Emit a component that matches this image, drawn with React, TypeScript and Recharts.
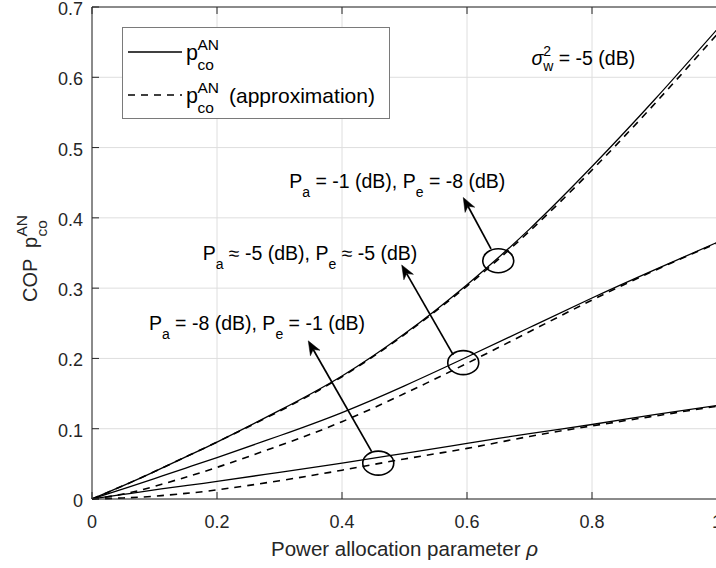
import React from 'react';
import { LineChart, Line, XAxis, YAxis, CartesianGrid, ReferenceLine, ReferenceDot, Legend } from 'recharts';

// ---------- data ----------
const rho = [0, 0.05, 0.1, 0.15, 0.2, 0.3, 0.4, 0.5, 0.6, 0.7, 0.8, 0.9, 1.0];
// Pa = -1 dB, Pe = -8 dB
const copHighExact = [0, 0.019, 0.039, 0.06, 0.081, 0.126, 0.175, 0.235, 0.305, 0.384, 0.473, 0.568, 0.668];
const copHighApprox = [0, 0.019, 0.039, 0.06, 0.081, 0.125, 0.174, 0.234, 0.303, 0.381, 0.468, 0.562, 0.661];
// Pa ~ -5 dB, Pe ~ -5 dB
const copMidExact = [0, 0.0145, 0.029, 0.044, 0.059, 0.09, 0.123, 0.161, 0.202, 0.244, 0.286, 0.326, 0.365];
const copMidApprox = [0, 0.007, 0.018, 0.031, 0.045, 0.076, 0.11, 0.15, 0.193, 0.238, 0.283, 0.325, 0.364];
// Pa = -8 dB, Pe = -1 dB
const copLowExact = [0, 0.0065, 0.013, 0.019, 0.025, 0.038, 0.051, 0.065, 0.079, 0.093, 0.106, 0.12, 0.133];
const copLowApprox = [0, 0.0015, 0.004, 0.008, 0.013, 0.026, 0.041, 0.057, 0.072, 0.089, 0.104, 0.118, 0.132];

const xTicks = [0, 0.2, 0.4, 0.6, 0.8, 1];
const yTicks = [0, 0.1, 0.2, 0.3, 0.4, 0.5, 0.6, 0.7];

const legendNames = ['', '(approximation)'];

// annotation anchors (data coordinates)
const ellipseCenters = [
  { x: 0.65, y: 0.339 },
  { x: 0.594, y: 0.194 },
  { x: 0.458, y: 0.051 },
];
const arrowSegments = [
  { x1: 0.6384, y1: 0.356, x2: 0.594, y2: 0.429 },
  { x1: 0.578, y1: 0.205, x2: 0.4955, y2: 0.333 },
  { x1: 0.4475, y1: 0.0673, x2: 0.346, y2: 0.225 },
];
type Seg = { t: string; sub?: boolean };
const annotationTexts: { x: number; y: number; anchor: 'start' | 'end'; segs: Seg[] }[] = [
  { x: 0.3155, y: 0.442, anchor: 'start', segs: [{ t: 'P' }, { t: 'a', sub: true }, { t: ' = -1 (dB), P' }, { t: 'e', sub: true }, { t: ' = -8 (dB)' }] },
  { x: 0.177, y: 0.34, anchor: 'start', segs: [{ t: 'P' }, { t: 'a', sub: true }, { t: ' \u2248 -5 (dB), P' }, { t: 'e', sub: true }, { t: ' \u2248 -5 (dB)' }] },
  { x: 0.4368, y: 0.2404, anchor: 'end', segs: [{ t: 'P' }, { t: 'a', sub: true }, { t: ' = -8 (dB), P' }, { t: 'e', sub: true }, { t: ' = -1 (dB)' }] },
];
const sigmaAnchor = { x: 0.703, y: 0.617 };

const data = rho.map((x, i) => ({
  x,
  s1: copHighExact[i],
  d1: copHighApprox[i],
  s2: copMidExact[i],
  d2: copMidApprox[i],
  s3: copLowExact[i],
  d3: copLowApprox[i],
}));

// ---------- styles ----------
const FONT = "'Liberation Sans', Arial, Helvetica, sans-serif";
const AXIS = '#262626';
const GRID = '#dedede';
const DASH = '7 6';
const ANN = 19.5;
const ANN_SUB = 14;

const fmt = (v: number) => String(Math.round(v * 10) / 10);

const BottomTick = (p: any) => (
  <g>
    <line x1={p.x} y1={p.y} x2={p.x} y2={p.y - 7} stroke={AXIS} strokeWidth={1} />
    <text x={p.x} y={p.y + 29} textAnchor="middle" fontSize={18} fill={AXIS} fontFamily={FONT}>
      {fmt(p.payload.value)}
    </text>
  </g>
);
const TopTick = (p: any) => (
  <line x1={p.x} y1={p.y} x2={p.x} y2={p.y + 7} stroke={AXIS} strokeWidth={1} />
);
const LeftTick = (p: any) => (
  <g>
    <line x1={p.x} y1={p.y} x2={p.x + 7} y2={p.y} stroke={AXIS} strokeWidth={1} />
    <text x={p.x - 9} y={p.y + 8} textAnchor="end" fontSize={18} fill={AXIS} fontFamily={FONT}>
      {fmt(p.payload.value)}
    </text>
  </g>
);
const RightTick = (p: any) => (
  <line x1={p.x} y1={p.y} x2={p.x - 7} y2={p.y} stroke={AXIS} strokeWidth={1} />
);

const XTitle = (props: any) => {
  const vb = props.viewBox || { x: 92, y: 499, width: 625, height: 69 };
  return (
    <text x={vb.x + vb.width / 2} y={vb.y + 57} textAnchor="middle" fontSize={20.5} fill={AXIS} fontFamily={FONT}>
      Power allocation parameter <tspan fontStyle="italic">{'\u03c1'}</tspan>
    </text>
  );
};

const YTitle = (props: any) => {
  const vb = props.viewBox || { x: 0, y: 7, width: 92, height: 492 };
  const cy = vb.y + vb.height / 2;
  return (
    <g transform={`translate(37, ${cy + 49}) rotate(-90)`} fontFamily={FONT} fill={AXIS}>
      <text x={0} y={0} fontSize={20}>COP</text>
      <text x={54} y={0} fontSize={20}>p</text>
      <text x={65.5} y={-10} fontSize={15.5}>AN</text>
      <text x={65.5} y={9.5} fontSize={15.5}>co</text>
    </g>
  );
};

const EllipseShape = (p: any) => (
  <ellipse cx={p.cx} cy={p.cy} rx={15.5} ry={12} fill="none" stroke="#000" strokeWidth={1.6} />
);

const ArrowShape = (p: any) => {
  const { x1, y1, x2, y2 } = p;
  const dx = x2 - x1;
  const dy = y2 - y1;
  const len = Math.hypot(dx, dy) || 1;
  const ux = dx / len;
  const uy = dy / len;
  const hl = 14;
  const hw = 5.5;
  const notch = 10;
  const bx = x2 - ux * hl;
  const by = y2 - uy * hl;
  const nx = x2 - ux * notch;
  const ny = y2 - uy * notch;
  const pts = `${x2},${y2} ${bx - uy * hw},${by + ux * hw} ${nx},${ny} ${bx + uy * hw},${by - ux * hw}`;
  return (
    <g>
      <line x1={x1} y1={y1} x2={nx} y2={ny} stroke="#000" strokeWidth={1.7} />
      <polygon points={pts} fill="#000" stroke="#000" strokeWidth={0.5} />
    </g>
  );
};

const makeTextShape = (segs: Seg[], anchor: 'start' | 'end') => (p: any) => {
  let cur = 0;
  return (
    <text x={p.cx} y={p.cy} textAnchor={anchor} fontSize={ANN} fontFamily={FONT} fill="#000">
      {segs.map((s, i) => {
        const target = s.sub ? 9 : 0;
        const d = target - cur;
        cur = target;
        return (
          <tspan key={i} dy={d} fontSize={s.sub ? ANN_SUB : ANN}>
            {s.t}
          </tspan>
        );
      })}
    </text>
  );
};

const SigmaShape = (p: any) => (
  <text x={p.cx} y={p.cy} fontSize={ANN} fontFamily={FONT} fill="#000">
    <tspan fontStyle="italic">{'\u03c3'}</tspan>
    <tspan fontSize={ANN_SUB} dy={6}>w</tspan>
    <tspan fontSize={ANN_SUB} dx={-10.1} dy={-15.5}>2</tspan>
    <tspan dx={2.4} dy={9.5}>{' = -5 (dB)'}</tspan>
  </text>
);

const LegendBox = () => {
  const rows = [0, 43];
  return (
    <svg width={268} height={92} style={{ display: 'block' }} fontFamily={FONT}>
      <rect x={0.5} y={0.5} width={267} height={91} fill="#fff" stroke="#7a7a7a" strokeWidth={1} />
      {rows.map((off, i) => (
        <g key={i}>
          <line
            x1={6}
            y1={25 + off}
            x2={60}
            y2={25 + off}
            stroke="#000"
            strokeWidth={i === 0 ? 1.3 : 1.6}
            strokeDasharray={i === 0 ? undefined : DASH}
          />
          <text x={64} y={33 + off} fontSize={21.5} fill="#000">p</text>
          <text x={75.5} y={22.5 + off} fontSize={15.5} fill="#000">AN</text>
          <text x={75.5} y={43 + off} fontSize={15.5} fill="#000">co</text>
          {legendNames[i] ? (
            <text x={107} y={33 + off} fontSize={21} fill="#000">{legendNames[i]}</text>
          ) : null}
        </g>
      ))}
    </svg>
  );
};

export default function App() {
  return (
    <div style={{ position: 'absolute', left: 0, top: 0, width: 716, height: 568, overflow: 'hidden', background: '#fff' }}>
      <LineChart width={720} height={568} data={data} margin={{ top: 0, right: 0, bottom: 0, left: 0 }}>
        <CartesianGrid stroke={GRID} strokeWidth={1} />
        <XAxis
          dataKey="x"
          type="number"
          domain={[0, 1]}
          ticks={xTicks}
          interval={0}
          height={69}
          tickSize={0}
          tickMargin={0}
          tickLine={false}
          axisLine={{ stroke: AXIS, strokeWidth: 1 }}
          tick={BottomTick}
          label={<XTitle />}
        />
        <XAxis
          xAxisId="top"
          orientation="top"
          dataKey="x"
          type="number"
          domain={[0, 1]}
          ticks={xTicks}
          interval={0}
          height={7}
          tickSize={0}
          tickMargin={0}
          tickLine={false}
          axisLine={{ stroke: AXIS, strokeWidth: 1 }}
          tick={TopTick}
        />
        <YAxis
          type="number"
          domain={[0, 0.7]}
          ticks={yTicks}
          interval={0}
          width={92}
          tickSize={0}
          tickMargin={0}
          tickLine={false}
          axisLine={{ stroke: AXIS, strokeWidth: 1 }}
          tick={LeftTick}
          label={<YTitle />}
        />
        <YAxis
          yAxisId="right"
          orientation="right"
          type="number"
          domain={[0, 0.7]}
          ticks={yTicks}
          interval={0}
          width={3}
          tickSize={0}
          tickMargin={0}
          tickLine={false}
          axisLine={{ stroke: AXIS, strokeWidth: 1 }}
          tick={RightTick}
        />
        <Line type="natural" dataKey="s1" stroke="#000" strokeWidth={1.3} dot={false} isAnimationActive={false} />
        <Line type="natural" dataKey="d1" stroke="#000" strokeWidth={1.6} strokeDasharray={DASH} dot={false} isAnimationActive={false} />
        <Line type="natural" dataKey="s2" stroke="#000" strokeWidth={1.3} dot={false} isAnimationActive={false} />
        <Line type="natural" dataKey="d2" stroke="#000" strokeWidth={1.6} strokeDasharray={DASH} dot={false} isAnimationActive={false} />
        <Line type="natural" dataKey="s3" stroke="#000" strokeWidth={1.3} dot={false} isAnimationActive={false} />
        <Line type="natural" dataKey="d3" stroke="#000" strokeWidth={1.6} strokeDasharray={DASH} dot={false} isAnimationActive={false} />
        {ellipseCenters.map((c, i) => (
          <ReferenceDot key={`e${i}`} x={c.x} y={c.y} r={12} shape={EllipseShape} ifOverflow="visible" />
        ))}
        {arrowSegments.map((a, i) => (
          <ReferenceLine
            key={`a${i}`}
            segment={[{ x: a.x1, y: a.y1 }, { x: a.x2, y: a.y2 }]}
            shape={ArrowShape}
            ifOverflow="visible"
          />
        ))}
        {annotationTexts.map((t, i) => (
          <ReferenceDot key={`t${i}`} x={t.x} y={t.y} r={1} shape={makeTextShape(t.segs, t.anchor)} ifOverflow="visible" />
        ))}
        <ReferenceDot x={sigmaAnchor.x} y={sigmaAnchor.y} r={1} shape={SigmaShape} ifOverflow="visible" />
        <Legend
          content={LegendBox}
          layout="horizontal"
          verticalAlign="middle"
          align="center"
          wrapperStyle={{ left: 122, top: 27, width: 268, height: 92 }}
        />
      </LineChart>
    </div>
  );
}
